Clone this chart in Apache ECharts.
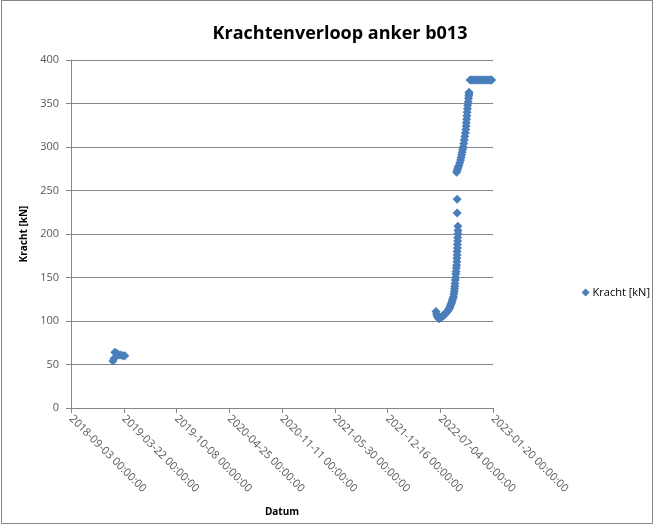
<!DOCTYPE html>
<html>
<head>
<meta charset="utf-8">
<title>Krachtenverloop anker b013</title>
<script src="https://cdn.jsdelivr.net/npm/echarts@6/dist/echarts.min.js"></script>
<style>
  html, body { margin: 0; padding: 0; background: #ffffff; }
  #chart { width: 655px; height: 528px; }
</style>
</head>
<body>
<div id="chart"></div>
<script>
// Time axis origin: x values are days since this date
const startDate = '2018-09-03';
const dayStep = 200;
const dayMax = 1600;

const yTicks = [0, 50, 100, 150, 200, 250, 300, 350, 400];

// Measurement days (days since startDate)
const days = [
  159, 163, 166, 174, 182, 189, 197, 204,
  1384, 1386, 1388, 1391, 1394, 1397, 1400, 1403, 1406, 1409, 1412, 1415, 1418, 1421,
  1424, 1427, 1430, 1433, 1436, 1438, 1440, 1442, 1444, 1446, 1448, 1450, 1452, 1453,
  1454, 1455, 1456, 1457, 1458, 1459, 1460, 1461, 1462, 1463, 1463, 1464, 1464, 1465,
  1465, 1466, 1466, 1467, 1467, 1467, 1464, 1464,
  1462, 1464, 1466, 1468, 1471, 1474, 1477, 1479, 1481, 1483, 1485, 1487, 1489, 1491,
  1493, 1495, 1497, 1498, 1499, 1500, 1501, 1502, 1503, 1504, 1506, 1507, 1508, 1509, 1509,
  1513, 1519, 1525, 1531, 1537, 1543, 1549, 1555, 1561, 1567, 1573, 1579, 1585, 1591, 1595
];

// Anchor force in kN
const kracht = [
  54, 57, 64, 63, 61, 61, 60, 60,
  111, 108, 106, 104, 103, 103, 104, 104, 105, 106, 106, 107, 108, 109,
  110, 111, 112, 114, 115, 117, 119, 120, 122, 124, 126, 128, 131, 134,
  137, 140, 143, 147, 150, 154, 157, 161, 164, 168, 172, 176, 180, 184,
  188, 192, 196, 200, 204, 209, 224, 240,
  271, 273, 275, 277, 279, 282, 285, 288, 291, 294, 297, 300, 304, 308,
  312, 316, 320, 324, 328, 332, 336, 340, 344, 348, 352, 356, 359, 361, 363,
  377, 377, 377, 377, 377, 377, 377, 377, 377, 377, 377, 377, 377, 377, 377
];

const points = days.map((d, i) => [d, kracht[i]]);

const t0 = Date.UTC(2018, 8, 3);
function pad(n) { return (n < 10 ? '0' : '') + n; }
function dayLabel(v) {
  const dt = new Date(t0 + v * 86400000);
  return dt.getUTCFullYear() + '-' + pad(dt.getUTCMonth() + 1) + '-' + pad(dt.getUTCDate()) + ' 00:00:00';
}

const FONT = '"Open Sans", "Liberation Sans", sans-serif';
const AXIS_GREY = '#868686';
const TEXT = '#595959';
const BLUE = '#4a7ebb';

const chart = echarts.init(document.getElementById('chart'), null, { renderer: 'canvas' });
chart.setOption({
  backgroundColor: '#ffffff',
  animation: false,
  title: {
    text: 'Krachtenverloop anker b013',
    left: 335,
    top: 20,
    textAlign: 'center',
    textStyle: { fontFamily: FONT, fontSize: 18, fontWeight: 'bold', color: '#000000' }
  },
  legend: {
    right: 0,
    top: 282,
    orient: 'vertical',
    itemWidth: 8,
    itemHeight: 8,
    itemGap: 4,
    textStyle: { fontFamily: FONT, fontSize: 11, color: '#000000', padding: [0, 0, 0, -2] },
    data: [{ name: 'Kracht [kN]', icon: 'diamond' }]
  },
  graphic: [{
    type: 'rect',
    shape: { x: 1.5, y: 0.5, width: 651, height: 523 },
    style: { fill: 'none', stroke: AXIS_GREY, lineWidth: 1 },
    silent: true
  }],
  grid: { left: 71, top: 60, right: 162, bottom: 120 },
  xAxis: {
    type: 'value',
    min: 0,
    max: dayMax,
    interval: dayStep,
    name: 'Datum',
    nameLocation: 'middle',
    nameGap: 99,
    nameTextStyle: { fontFamily: FONT, fontSize: 10, fontWeight: 'bold', color: '#000000' },
    axisLine: { show: true, lineStyle: { color: AXIS_GREY, width: 1 } },
    axisTick: { show: true, inside: false, length: 5, lineStyle: { color: AXIS_GREY } },
    splitLine: { show: false },
    axisLabel: {
      rotate: -45,
      margin: 9,
      fontFamily: FONT,
      fontSize: 11,
      color: TEXT,
      formatter: dayLabel
    }
  },
  yAxis: {
    type: 'value',
    min: yTicks[0],
    max: yTicks[yTicks.length - 1],
    interval: yTicks[1] - yTicks[0],
    name: 'Kracht [kN]',
    nameLocation: 'middle',
    nameGap: 32,
    nameRotate: 90,
    nameTextStyle: { fontFamily: FONT, fontSize: 10, fontWeight: 'bold', color: '#000000' },
    axisLine: { show: true, lineStyle: { color: AXIS_GREY, width: 1 } },
    axisTick: { show: true, inside: false, length: 5, lineStyle: { color: AXIS_GREY } },
    splitLine: { show: true, lineStyle: { color: AXIS_GREY, width: 1 } },
    axisLabel: { margin: 12, fontFamily: FONT, fontSize: 11, color: TEXT }
  },
  series: [{
    name: 'Kracht [kN]',
    type: 'scatter',
    symbol: 'diamond',
    symbolSize: 9,
    itemStyle: { color: BLUE, opacity: 1 },
    data: points
  }]
});
</script>
</body>
</html>
